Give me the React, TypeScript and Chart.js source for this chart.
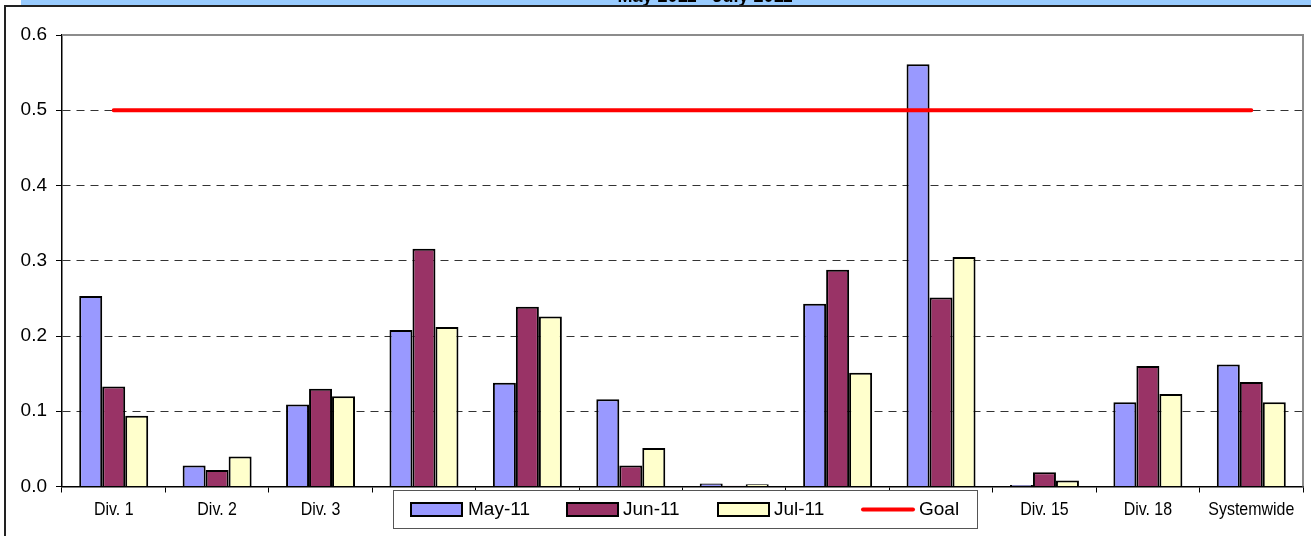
import React, { useEffect, useRef } from 'react';
import { Chart, registerables } from 'chart.js';

Chart.register(...registerables);

const title = 'May 2011 - July 2011';
const categories = ['Div. 1', 'Div. 2', 'Div. 3', 'Div. 4', 'Div. 5', 'Div. 6', 'Div. 7', 'Div. 8', 'Div. 9', 'Div. 15', 'Div. 18', 'Systemwide'];
const may11 = [0.253, 0.028, 0.109, 0.208, 0.138, 0.116, 0.004, 0.243, 0.561, 0.002, 0.112, 0.162];
const jun11 = [0.133, 0.022, 0.130, 0.316, 0.239, 0.028, 0.001, 0.288, 0.251, 0.019, 0.160, 0.139];
const jul11 = [0.094, 0.040, 0.120, 0.212, 0.226, 0.051, 0.003, 0.151, 0.305, 0.008, 0.123, 0.112];
const goal = [0.5, 0.5, 0.5, 0.5, 0.5, 0.5, 0.5, 0.5, 0.5, 0.5, 0.5, 0.5];
const yTicks = [0, 0.1, 0.2, 0.3, 0.4, 0.5, 0.6];

const FONT = '"Liberation Sans", Arial, sans-serif';
const W = 1311;
const H = 536;

const decor = {
  id: 'decor',
  beforeDraw(chart: any) {
    const ctx = chart.ctx;
    ctx.save();
    ctx.fillStyle = '#ffffff';
    ctx.fillRect(0, 0, chart.width, chart.height);
    ctx.restore();
  },
  afterDraw(chart: any) {
    const ctx = chart.ctx;
    const a = chart.chartArea;
    const xs = chart.scales.x;
    ctx.save();

    // plot area top/right border
    ctx.strokeStyle = '#8c8c8c';
    ctx.lineWidth = 2;
    ctx.beginPath();
    ctx.moveTo(a.left, a.top);
    ctx.lineTo(a.right, a.top);
    ctx.lineTo(a.right, a.bottom);
    ctx.stroke();

    // header band with clipped title
    ctx.fillStyle = '#99CCFF';
    ctx.fillRect(21, 0, chart.width - 21, 6);
    ctx.save();
    ctx.beginPath();
    ctx.rect(21, 0, chart.width - 21, 6);
    ctx.clip();
    ctx.fillStyle = '#000';
    ctx.font = 'bold 18px ' + FONT;
    ctx.textAlign = 'center';
    ctx.textBaseline = 'alphabetic';
    ctx.fillText(title, 705, 2);
    ctx.restore();

    // outer frame
    ctx.strokeStyle = '#222';
    ctx.lineWidth = 2;
    ctx.beginPath();
    ctx.moveTo(5, chart.height);
    ctx.lineTo(5, 6);
    ctx.lineTo(chart.width, 6);
    ctx.stroke();

    // category labels (condensed)
    ctx.fillStyle = '#000';
    ctx.font = '19px ' + FONT;
    ctx.textAlign = 'center';
    ctx.textBaseline = 'middle';
    categories.forEach((lab, i) => {
      const x = xs.getPixelForValue(i);
      ctx.save();
      ctx.translate(x, 510);
      ctx.scale(0.84, 1);
      ctx.fillText(lab, 0, 0);
      ctx.restore();
    });

    // legend
    const lx = 393.5, ly = 490.5, lw = 584, lh = 38;
    ctx.fillStyle = '#fff';
    ctx.fillRect(lx, ly, lw, lh);
    ctx.strokeStyle = '#555';
    ctx.lineWidth = 1;
    ctx.strokeRect(lx, ly, lw, lh);
    const pos = [
      { sx: 411, tx: 468 },
      { sx: 567, tx: 623 },
      { sx: 718, tx: 774 },
      { sx: 861, tx: 919 },
    ];
    const ds = chart.data.datasets;
    ctx.font = '19px ' + FONT;
    ctx.textAlign = 'left';
    ctx.textBaseline = 'middle';
    ds.forEach((d: any, i: number) => {
      const p = pos[i];
      if (d.type === 'line') {
        ctx.strokeStyle = d.borderColor;
        ctx.lineWidth = 4;
        ctx.lineCap = 'round';
        ctx.beginPath();
        ctx.moveTo(p.sx + 2, 509.5);
        ctx.lineTo(p.sx + 52, 509.5);
        ctx.stroke();
      } else {
        ctx.fillStyle = d.backgroundColor;
        ctx.fillRect(p.sx, 503, 51, 13);
        ctx.strokeStyle = '#000';
        ctx.lineWidth = 2;
        ctx.strokeRect(p.sx, 503, 51, 13);
      }
      ctx.fillStyle = '#000';
      ctx.fillText(d.label, p.tx, 510);
    });

    ctx.restore();
  },
};

export default function App() {
  const ref = useRef<HTMLCanvasElement | null>(null);

  useEffect(() => {
    if (!ref.current) return;
    const barCommon = {
      borderColor: '#000000',
      borderWidth: 2,
      categoryPercentage: 0.667,
      barPercentage: 1.0,
      order: 1,
    };
    const chart = new Chart(ref.current, {
      type: 'bar',
      data: {
        labels: categories,
        datasets: [
          { ...barCommon, label: 'May-11', data: may11, backgroundColor: '#9999FF' },
          { ...barCommon, label: 'Jun-11', data: jun11, backgroundColor: '#993366' },
          { ...barCommon, label: 'Jul-11', data: jul11, backgroundColor: '#FFFFCC' },
          {
            type: 'line',
            label: 'Goal',
            data: goal,
            borderColor: '#FF0000',
            backgroundColor: '#FF0000',
            borderWidth: 4,
            borderCapStyle: 'round',
            pointRadius: 0,
            fill: false,
            tension: 0,
            order: 0,
          } as any,
        ],
      },
      options: {
        responsive: false,
        animation: false,
        devicePixelRatio: 1,
        layout: { padding: { top: 35, left: 0, right: 8, bottom: 0 } },
        plugins: {
          legend: { display: false },
          title: { display: false },
          tooltip: { enabled: false },
        },
        scales: {
          x: {
            offset: true,
            ticks: { display: false },
            grid: {
              offset: true,
              drawOnChartArea: false,
              drawTicks: true,
              tickLength: 6,
              tickColor: '#000',
              tickWidth: 1,
            },
            border: { display: true, color: '#000', width: 1.5 },
            afterFit: (s: any) => { s.height = 49.5; },
          },
          y: {
            min: 0,
            max: 0.6,
            afterBuildTicks: (s: any) => { s.ticks = yTicks.map((v) => ({ value: v })); },
            ticks: {
              color: '#000',
              font: { family: FONT, size: 19 },
              padding: 9,
              callback: (v: any) => Number(v).toFixed(1),
            },
            grid: {
              color: (c: any) => {
                const v = c.tick ? c.tick.value : 0;
                return v < 0.0001 || v > 0.5999 ? 'rgba(0,0,0,0)' : '#333333';
              },
              lineWidth: 1,
              drawTicks: true,
              tickLength: 6,
              tickColor: '#000',
              tickWidth: 1,
            },
            border: { display: true, color: '#000', width: 1.5, dash: [8, 6] },
            afterFit: (s: any) => { s.width = 62; },
          },
        },
      },
      plugins: [decor],
    } as any);
    return () => chart.destroy();
  }, []);

  return (
    <div style={{ position: 'fixed', left: 0, top: 0, width: W, height: H, background: '#fff' }}>
      <canvas ref={ref} width={W} height={H} style={{ width: W, height: H, display: 'block' }} />
    </div>
  );
}
